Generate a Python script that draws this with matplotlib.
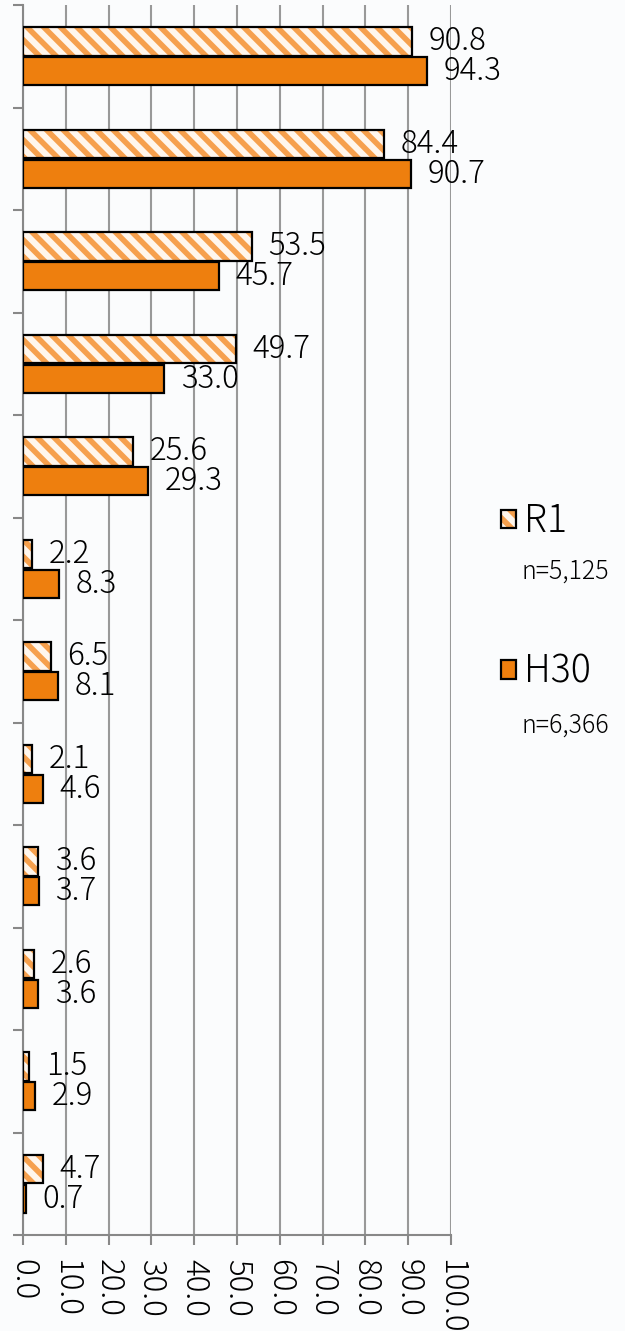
import numpy as np
import matplotlib
matplotlib.use('Agg')
import matplotlib.pyplot as plt
from matplotlib.legend_handler import HandlerTuple

plt.rcParams['font.family'] = ['Noto Sans CJK JP', 'DejaVu Sans']
plt.rcParams['font.weight'] = 'light'
plt.rcParams['hatch.linewidth'] = 4.0

# データ
n_items = 12
r1_values = [90.8, 84.4, 53.5, 49.7, 25.6, 2.2, 6.5, 2.1, 3.6, 2.6, 1.5, 4.7]
h30_values = [94.3, 90.7, 45.7, 33.0, 29.3, 8.3, 8.1, 4.6, 3.7, 3.6, 2.9, 0.7]
series_names = ['R1', 'H30']
sample_sizes = ['n=5,125', 'n=6,366']
x_ticks = np.arange(0, 101, 10)

orange = '#ee7f0e'
stripe = '#f6a04d'

fig = plt.figure(figsize=(6.25, 13.31), dpi=100, facecolor='#fbfcfd')
ax = fig.add_axes([0.0368, 0.0721, 0.6848, 0.9241])

y = np.arange(n_items)
off = 0.145
h = 0.275

# R1: 斜線ハッチ + 黒枠
r1_hatch = ax.barh(y - off, r1_values, height=h, color='#fff6ec', edgecolor=stripe,
                   hatch='\\\\', linewidth=0, zorder=3)
r1_edge = ax.barh(y - off, r1_values, height=h, color='none', edgecolor='black',
                  linewidth=1.6, zorder=4)
h30_bars = ax.barh(y + off, h30_values, height=h, color=orange, edgecolor='black',
                   linewidth=1.6, zorder=3)

for yi, v in zip(y, r1_values):
    ax.annotate(f'{v:.1f}', (v, yi - off), xytext=(12, 0), textcoords='offset points',
                va='center', ha='left', fontsize=22.5, zorder=5)
for yi, v in zip(y, h30_values):
    ax.annotate(f'{v:.1f}', (v, yi + off), xytext=(12, 0), textcoords='offset points',
                va='center', ha='left', fontsize=22.5, zorder=5)

ax.set_xlim(0, 100)
ax.set_ylim(n_items - 0.5, -0.5)
ax.set_xticks(x_ticks)
ax.set_xticklabels([f'{t:.1f}' for t in x_ticks], rotation=-90, fontsize=22.5)
ax.set_yticks(np.arange(-0.5, n_items, 1))
ax.set_yticklabels([])
ax.tick_params(axis='y', length=7, color='#888888', width=1.5)
ax.tick_params(axis='x', length=7, color='#888888', width=1.5, pad=10)
ax.grid(axis='x', color='#999999', linewidth=1.5, zorder=0)
ax.set_axisbelow(True)
for s in ['top', 'right']:
    ax.spines[s].set_visible(False)
for s in ['left', 'bottom']:
    ax.spines[s].set_color('#888888')
    ax.spines[s].set_linewidth(1.5)
ax.set_facecolor('none')

leg = fig.legend([(r1_hatch, r1_edge), h30_bars], series_names,
                 handler_map={tuple: HandlerTuple(ndivide=1, pad=0)},
                 loc='upper left', bbox_to_anchor=(0.772, 0.637), frameon=False,
                 fontsize=27, handlelength=0.4, handleheight=0.4,
                 handletextpad=0.2, labelspacing=2.95, borderpad=0)

fig.text(0.835, 0.571, sample_sizes[0], fontsize=18, va='center', ha='left')
fig.text(0.835, 0.455, sample_sizes[1], fontsize=18, va='center', ha='left')

fig.savefig('out.png', dpi=100, facecolor=fig.get_facecolor())
